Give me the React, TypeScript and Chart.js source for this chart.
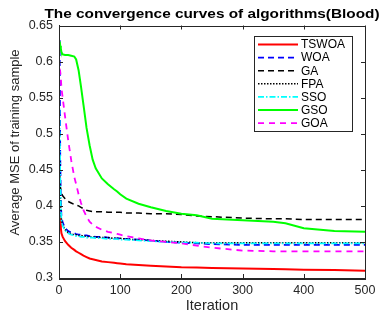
import React, { useEffect, useRef } from "react";
import { Chart, registerables } from "chart.js";

Chart.register(...registerables);

const titleText = "The convergence curves of algorithms(Blood)";
const xLabel = "Iteration";
const yLabel = "Average MSE of training sample";

const iterations = [1, 2, 3, 4, 6, 10, 15, 20, 25, 28, 32, 36, 40, 45, 50, 55, 60, 70, 80, 90, 95, 100, 110, 130, 150, 175, 200, 225, 250, 300, 350, 370, 400, 450, 500];

const tswoa = [0.386, 0.376, 0.369, 0.362, 0.357, 0.351, 0.346, 0.342, 0.339, 0.337, 0.335, 0.333, 0.331, 0.329, 0.327, 0.326, 0.325, 0.323, 0.322, 0.321, 0.3205, 0.32, 0.319, 0.318, 0.317, 0.316, 0.315, 0.3145, 0.314, 0.313, 0.3125, 0.312, 0.3115, 0.311, 0.31];
const woa = [0.63, 0.47, 0.405, 0.385, 0.377, 0.369, 0.365, 0.363, 0.362, 0.361, 0.36, 0.36, 0.359, 0.359, 0.358, 0.358, 0.357, 0.357, 0.356, 0.355, 0.355, 0.355, 0.354, 0.353, 0.352, 0.35, 0.349, 0.348, 0.347, 0.346, 0.346, 0.346, 0.346, 0.346, 0.346];
const ga = [0.43, 0.427, 0.423, 0.418, 0.414, 0.41, 0.406, 0.404, 0.402, 0.401, 0.4, 0.398, 0.396, 0.394, 0.393, 0.392, 0.392, 0.392, 0.391, 0.391, 0.391, 0.391, 0.39, 0.39, 0.389, 0.389, 0.388, 0.386, 0.385, 0.383, 0.382, 0.382, 0.381, 0.381, 0.381];
const fpa = [0.47, 0.42, 0.395, 0.38, 0.373, 0.367, 0.363, 0.361, 0.36, 0.36, 0.359, 0.359, 0.358, 0.358, 0.357, 0.357, 0.357, 0.356, 0.356, 0.355, 0.355, 0.355, 0.354, 0.353, 0.352, 0.351, 0.35, 0.349, 0.349, 0.349, 0.349, 0.349, 0.349, 0.349, 0.349];
const sso = [0.535, 0.45, 0.4, 0.38, 0.372, 0.366, 0.362, 0.36, 0.359, 0.358, 0.358, 0.357, 0.357, 0.356, 0.356, 0.356, 0.355, 0.355, 0.354, 0.354, 0.354, 0.353, 0.353, 0.352, 0.351, 0.35, 0.349, 0.349, 0.348, 0.348, 0.348, 0.348, 0.348, 0.348, 0.348];
const gso = [0.628, 0.622, 0.618, 0.613, 0.61, 0.609, 0.609, 0.608, 0.607, 0.603, 0.588, 0.565, 0.54, 0.508, 0.484, 0.464, 0.452, 0.438, 0.43, 0.423, 0.42, 0.416, 0.41, 0.403, 0.398, 0.393, 0.389, 0.387, 0.382, 0.38, 0.378, 0.376, 0.369, 0.365, 0.364];
const goa = [0.59, 0.586, 0.578, 0.563, 0.55, 0.523, 0.491, 0.463, 0.44, 0.43, 0.416, 0.404, 0.394, 0.385, 0.378, 0.374, 0.371, 0.367, 0.364, 0.362, 0.361, 0.36, 0.358, 0.355, 0.352, 0.35, 0.348, 0.345, 0.342, 0.338, 0.337, 0.337, 0.337, 0.337, 0.337];

const seriesNames = ["TSWOA", "WOA", "GA", "FPA", "SSO", "GSO", "GOA"];
const seriesValues = [tswoa, woa, ga, fpa, sso, gso, goa];
const seriesColors = ["#ff0000", "#0000ff", "#000000", "#000000", "#00ffff", "#00ff00", "#ff00ff"];
const seriesDashes: number[][] = [[], [6, 4], [6, 4], [1.5, 1.5], [6, 2, 1.5, 2], [], [6, 5]];
const seriesWidths = [2, 1.8, 1.5, 1.5, 1.6, 2, 1.8];

const xTicks = [0, 100, 200, 300, 400, 500];
const yTicks = [0.3, 0.35, 0.4, 0.45, 0.5, 0.55, 0.6, 0.65];

const FONT = "'Liberation Sans', Arial, Helvetica, sans-serif";
const TEXT = "#262626";

const textPlugin = {
  id: "texts",
  afterDraw(chart: any) {
    const { ctx, chartArea: a } = chart;
    ctx.save();
    ctx.font = "bold 12px " + FONT;
    ctx.fillStyle = "#000000";
    ctx.textAlign = "center";
    ctx.textBaseline = "middle";
    const w = ctx.measureText(titleText).width;
    ctx.translate((a.left + a.right) / 2, 15);
    ctx.scale(335 / w, 1);
    ctx.fillText(titleText, 0, 0);
    ctx.restore();

    ctx.save();
    ctx.font = "13px " + FONT;
    ctx.fillStyle = TEXT;
    ctx.textAlign = "center";
    ctx.textBaseline = "middle";
    ctx.translate(15, 142.5);
    ctx.rotate(-Math.PI / 2);
    ctx.fillText(yLabel, 0, 0);
    ctx.restore();
  },
};

const framePlugin = {
  id: "frame",
  afterDatasetsDraw(chart: any) {
    const { ctx, chartArea: a, scales } = chart;
    ctx.save();
    ctx.strokeStyle = "#262626";
    ctx.lineWidth = 1;
    ctx.setLineDash([]);
    ctx.strokeRect(Math.round(a.left) + 0.5, Math.round(a.top) + 0.5, Math.round(a.right - a.left), Math.round(a.bottom - a.top));
    const tl = 4;
    ctx.beginPath();
    xTicks.forEach((v) => {
      const x = Math.round(scales.x.getPixelForValue(v)) + 0.5;
      ctx.moveTo(x, a.bottom);
      ctx.lineTo(x, a.bottom - tl);
      ctx.moveTo(x, a.top);
      ctx.lineTo(x, a.top + tl);
    });
    yTicks.forEach((v) => {
      const y = Math.round(scales.y.getPixelForValue(v)) + 0.5;
      ctx.moveTo(a.left, y);
      ctx.lineTo(a.left + tl, y);
      ctx.moveTo(a.right, y);
      ctx.lineTo(a.right - tl, y);
    });
    ctx.stroke();
    ctx.restore();
  },
};

const legendPlugin = {
  id: "boxLegend",
  afterDraw(chart: any) {
    const { ctx, chartArea: a } = chart;
    const bx = a.right - 111;
    const by = a.top + 10.5;
    const bw = 98;
    const bh = 95;
    ctx.save();
    ctx.fillStyle = "#ffffff";
    ctx.fillRect(bx, by, bw, bh);
    ctx.strokeStyle = "#262626";
    ctx.lineWidth = 1;
    ctx.setLineDash([]);
    ctx.strokeRect(Math.round(bx) + 0.5, Math.round(by) + 0.5, bw, bh);
    ctx.font = "12px " + FONT;
    ctx.textBaseline = "middle";
    ctx.textAlign = "left";
    seriesNames.forEach((name, i) => {
      const y = by + 8.5 + i * 13.1;
      ctx.strokeStyle = seriesColors[i];
      ctx.lineWidth = seriesWidths[i];
      ctx.setLineDash(seriesDashes[i]);
      ctx.beginPath();
      ctx.moveTo(bx + 4, y);
      ctx.lineTo(bx + 44, y);
      ctx.stroke();
      ctx.setLineDash([]);
      ctx.fillStyle = "#000000";
      ctx.fillText(name, bx + 47, y + 0.5);
    });
    ctx.restore();
  },
};

export default function App() {
  const ref = useRef<HTMLCanvasElement | null>(null);
  useEffect(() => {
    document.body.style.margin = "0";
    if (!ref.current) return;
    const datasets = seriesNames.map((name, i) => ({
      label: name,
      data: iterations.map((it, k) => ({ x: it, y: seriesValues[i][k] })),
      borderColor: seriesColors[i],
      backgroundColor: seriesColors[i],
      borderWidth: seriesWidths[i],
      borderDash: seriesDashes[i],
      pointRadius: 0,
      tension: 0,
      fill: false,
      order: seriesNames.length - 1 - i,
    }));
    const chart = new Chart(ref.current, {
      type: "line",
      data: { datasets },
      options: {
        responsive: false,
        animation: false,
        layout: { padding: { left: 0, right: 23, top: 25.5, bottom: 0 } },
        plugins: {
          legend: { display: false },
          tooltip: { enabled: false },
          title: { display: false },
        },
        scales: {
          x: {
            type: "linear",
            min: 0,
            max: 500,
            afterBuildTicks: (s: any) => {
              s.ticks = xTicks.map((v) => ({ value: v }));
            },
            afterFit: (s: any) => {
              s.height = 40;
            },
            ticks: { color: TEXT, font: { family: FONT, size: 12.5 }, padding: 5, maxRotation: 0, autoSkip: false },
            grid: { display: false, drawTicks: false },
            border: { display: true, color: "#262626" },
            title: { display: true, text: xLabel, color: TEXT, font: { family: FONT, size: 14.5 }, padding: { top: 0, bottom: 3 } },
          },
          y: {
            type: "linear",
            min: 0.3,
            max: 0.65,
            afterBuildTicks: (s: any) => {
              s.ticks = yTicks.map((v) => ({ value: v }));
            },
            afterFit: (s: any) => {
              s.width = 59;
            },
            ticks: {
              color: TEXT,
              font: { family: FONT, size: 12.5 },
              padding: 6,
              callback: (v: any) => String(Number(Number(v).toFixed(2))),
            },
            grid: { display: false, drawTicks: false },
            border: { display: true, color: "#262626" },
            title: { display: false },
          },
        },
      },
      plugins: [framePlugin, legendPlugin, textPlugin],
    });
    return () => chart.destroy();
  }, []);
  return (
    <div style={{ width: 388, height: 318, background: "#ffffff" }}>
      <canvas ref={ref} width={388} height={318} style={{ display: "block", width: 388, height: 318 }} />
    </div>
  );
}
